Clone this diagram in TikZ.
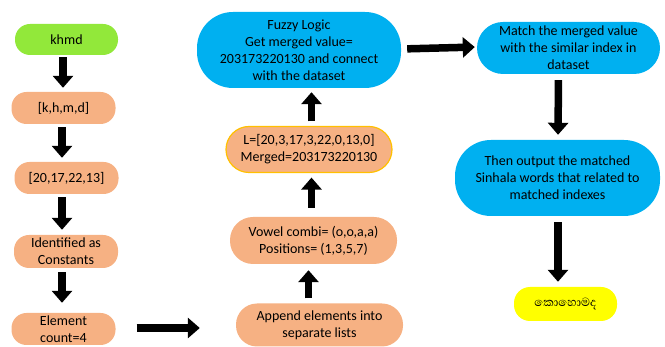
\documentclass[tikz,border=0pt]{standalone}
\usepackage{fontspec}
\setmainfont{Carlito}
\newfontfamily\sinhalafont[Script=Sinhala]{Abhaya Libre}
\usetikzlibrary{arrows.meta}
\definecolor{gr}{HTML}{92E83A}
\definecolor{orn}{HTML}{F6B183}
\definecolor{blu}{HTML}{00B0F0}
\definecolor{yel}{HTML}{FFFF00}
\definecolor{gold}{HTML}{FFC000}
\tikzset{
  pill/.style={inner sep=0pt, align=center, font=\fontsize{14}{17}\selectfont, text=black},
  orangebox/.style={pill, fill=orn, minimum width=104pt, minimum height=32pt, rounded corners=15pt},
  bigarrow/.style={line width=7.5pt, -{Triangle[length=12pt 0 0,width=20pt 0 0]}, black},
}
\begin{document}
\begin{tikzpicture}[x=1pt,y=-1pt]
\useasboundingbox (0,0) rectangle (665,347);
% left column
\node[pill, fill=gr, minimum width=103pt, minimum height=31pt, rounded corners=15pt] (khmd) at (66.5,39.5) {khmd};
\node[orangebox] (list) at (63.5,108) {[k,h,m,d]};
\node[orangebox] (nums) at (66.5,178) {[20,17,22,13]};
\node[orangebox, minimum height=33pt] (ident) at (66,251.5) {Identified as\\Constants};
\node[orangebox] (count) at (63.5,329) {Element\\count=4};
% middle column
\node[pill, fill=orn, minimum width=167pt, minimum height=43pt, rounded corners=21pt] (append) at (319.5,325) {Append elements into\\separate lists};
\node[pill, fill=orn, minimum width=167pt, minimum height=47pt, rounded corners=23pt] (vowel) at (313.5,240.5) {Vowel combi= (o,o,a,a)\\Positions= (1,3,5,7)};
\node[pill, fill=orn, draw=gold, line width=1.2pt, minimum width=166pt, minimum height=46pt, rounded corners=23pt] (merged) at (309,149.5) {L=[20,3,17,3,22,0,13,0]\\Merged=203173220130};
\node[pill, fill=blu, minimum width=204pt, minimum height=76pt, rounded corners=36pt] (fuzzy) at (299,50) {Fuzzy Logic\\Get merged value=\\203173220130 and connect\\with the dataset};
% right column
\node[pill, fill=blu, minimum width=183pt, minimum height=52pt, rounded corners=26pt] (match) at (568.5,48) {Match the merged value\\with the similar index in\\dataset};
\node[pill, fill=blu, minimum width=205pt, minimum height=76pt, rounded corners=36pt] (output) at (557.5,178) {Then output the matched\\Sinhala words that related to\\matched indexes};
\node[pill, fill=yel, minimum width=103pt, minimum height=34pt, rounded corners=16pt, font=\sinhalafont\fontsize{15}{17}\selectfont] (word) at (565.5,304) {කොහොමද};
% arrows
\draw[bigarrow, shorten <=2pt, shorten >=4pt] ([xshift=-3.5pt]khmd.south) -- ([xshift=-0.5pt]list.north);
\draw[bigarrow, shorten <=3pt, shorten >=4pt] ([xshift=-1.5pt]list.south) -- ([xshift=-4.5pt]nums.north);
\draw[bigarrow, shorten <=3pt, shorten >=5pt] ([xshift=-4.5pt]nums.south) -- ([xshift=-4pt]ident.north);
\draw[bigarrow, shorten <=4pt, shorten >=10pt] ([xshift=-4pt]ident.south) -- ([xshift=-1.5pt]count.north);
\draw[bigarrow, shorten <=21pt, shorten >=36pt] ([yshift=1pt]count.east) -- ([yshift=1pt]count.east -| append.west);
\draw[bigarrow, shorten <=5pt, shorten >=6pt] ([xshift=-11pt]append.north) -- ([xshift=-5pt]vowel.south);
\draw[bigarrow, shorten <=9pt, shorten >=4.5pt] ([xshift=-2pt]vowel.north) -- ([xshift=2.5pt]merged.south);
\draw[bigarrow, shorten <=4.5pt, shorten >=4pt] ([xshift=2.5pt]merged.north) -- ([xshift=12.5pt]fuzzy.south);
\draw[bigarrow, shorten <=6pt, shorten >=2pt] ([yshift=1pt]fuzzy.east) -- ([yshift=1pt]match.west);
\draw[bigarrow, shorten <=6pt, shorten >=5pt] ([xshift=-10pt]match.south) -- ([xshift=0.5pt]output.north);
\draw[bigarrow, shorten <=6pt, shorten >=5pt] ([xshift=0.5pt]output.south) -- ([xshift=-7.5pt]word.north);
\end{tikzpicture}
\end{document}
